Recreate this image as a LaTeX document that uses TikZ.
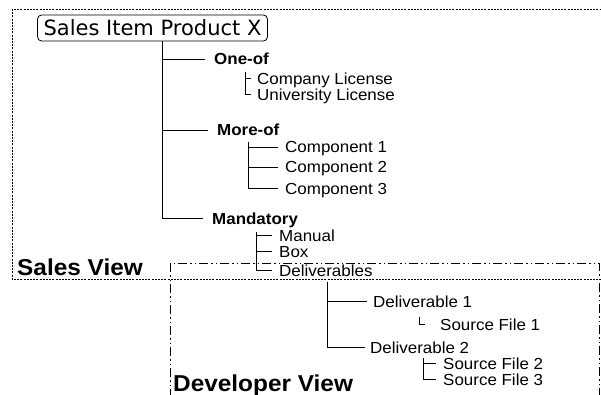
\documentclass[tikz,border=0pt]{standalone}
\usepackage{fontspec}
\setmainfont[FakeStretch=1.06]{Liberation Sans}
\newfontfamily\rootfont{DejaVu Sans}
\begin{document}
\begin{tikzpicture}[x=1pt,y=-1pt,
  rootbox/.style={draw,rounded corners=4pt,line width=0.8pt,font=\rootfont\fontsize{21}{24}\selectfont,
    inner xsep=6pt,inner ysep=0pt,minimum height=26pt},
  item/.style={anchor=base west,inner sep=0pt,text height=11.6pt,text depth=0pt,
    font=\fontsize{16}{19}\selectfont},
  group/.style={item,font=\bfseries\fontsize{16}{19}\selectfont},
  viewlabel/.style={anchor=base west,inner sep=0pt,font=\bfseries\fontsize{23}{27}\selectfont},
  trunk/.style={line width=1pt},
  twig/.style={line width=0.8pt},
  salesframe/.style={line width=0.8pt,dash pattern=on 2pt off 1.2pt},
  devframe/.style={line width=0.8pt,dash pattern=on 9pt off 3pt on 1.5pt off 3pt on 1.5pt off 3pt}]
\useasboundingbox (0,0) rectangle (601,395);
\fill[white] (0,0) rectangle (601,395);
\clip (0,0) rectangle (601,395);

% view frames
\draw[salesframe] (12,9) rectangle (640,279);
\draw[devframe] (170,263) rectangle (599,420);
\node[viewlabel] (salesview) at (17,275) {Sales View};
\node[viewlabel] (devview) at (173,391) {Developer View};

% root item
\node[rootbox] (root) at (152.5,28) {Sales Item Product X};

% groups
\node[group] (oneof) at (214,65) {One-of};
\node[group] (moreof) at (217,136) {More-of};
\node[group] (mandatory) at (212,224) {Mandatory};

% one-of options
\node[item] (company) at (257,84.5) {Company License};
\node[item] (university) at (257,100.5) {University License};

% components
\node[item] (comp1) at (285,153) {Component 1};
\node[item] (comp2) at (285,173) {Component 2};
\node[item] (comp3) at (285,194) {Component 3};

% mandatory parts
\node[item] (manual) at (279,241) {Manual};
\node[item] (box) at (279,257) {Box};
\node[item] (deliverables) at (279,276) {Deliverables};

% developer side
\node[item] (deliv1) at (373,307) {Deliverable 1};
\node[item] (deliv2) at (370,353) {Deliverable 2};
\node[item] (src1) at (440,330) {Source File 1};
\node[item] (src2) at (443,369.5) {Source File 2};
\node[item] (src3) at (443,385.5) {Source File 3};

% branch points
\coordinate (trunktop) at ([xshift=10pt]root.south);
\coordinate (onefork) at (245,72);
\coordinate (morefork) at (248,142);
\coordinate (mandfork) at (256,232);
\coordinate (delivfork) at (327,282);
\coordinate (src1fork) at (419,317);
\coordinate (src23fork) at (423,358);

% connectors
\draw[trunk] (trunktop) |- ([xshift=-9pt]oneof.west);
\draw[trunk] (trunktop) |- ([xshift=-9pt]moreof.west);
\draw[trunk] (trunktop) |- ([xshift=-9pt]mandatory.west);

\draw[twig] (onefork) |- ([xshift=-6pt]company.west);
\draw[twig] (onefork) |- ([xshift=-6pt]university.west);

\draw[twig] (morefork) |- ([xshift=-7pt]comp1.west);
\draw[twig] (morefork) |- ([xshift=-7pt]comp2.west);
\draw[twig] (morefork) |- ([xshift=-7pt]comp3.west);

\draw[twig] (mandfork) |- ([xshift=-7pt]manual.west);
\draw[twig] (mandfork) |- ([xshift=-7pt]box.west);
\draw[twig] (mandfork) |- ([xshift=-7pt]deliverables.west);

\draw[trunk] (delivfork) |- ([xshift=-6pt]deliv1.west);
\draw[trunk] (delivfork) |- ([xshift=-5pt]deliv2.west);

\draw[twig] (src1fork) |- ([xshift=-15pt]src1.west);
\draw[twig] (src23fork) |- ([xshift=-7pt]src2.west);
\draw[twig] (src23fork) |- ([xshift=-7pt]src3.west);
\end{tikzpicture}
\end{document}
